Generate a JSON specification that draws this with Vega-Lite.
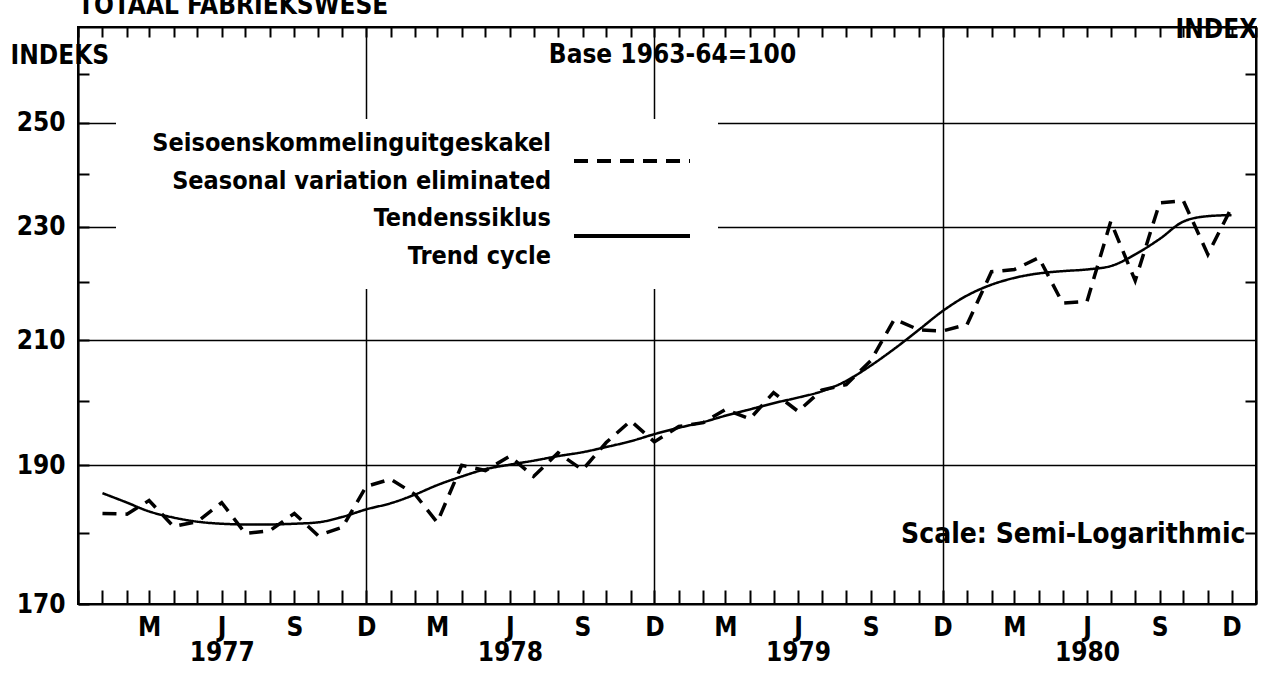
{
  "$schema": "https://vega.github.io/schema/vega-lite/v6.json",
  "width": 1178,
  "height": 577,
  "autosize": "none",
  "padding": {"left": 78, "top": 27, "right": 6, "bottom": 75},
  "background": "white",
  "title": {
    "text": "TOTAAL FABRIEKSWESE",
    "anchor": "start",
    "frame": "group",
    "font": "DejaVu Sans Condensed, Liberation Sans Narrow, DejaVu Sans, sans-serif",
    "fontSize": 26,
    "fontWeight": "bold",
    "color": "black",
    "baseline": "alphabetic",
    "offset": -24
  },
  "datasets": {
    "sa": [
      {"date": "1977-01-01", "series": "Seasonal variation eliminated", "value": 182.8},
      {"date": "1977-02-01", "series": "Seasonal variation eliminated", "value": 182.7},
      {"date": "1977-03-01", "series": "Seasonal variation eliminated", "value": 184.7},
      {"date": "1977-04-01", "series": "Seasonal variation eliminated", "value": 180.9},
      {"date": "1977-05-01", "series": "Seasonal variation eliminated", "value": 181.6},
      {"date": "1977-06-01", "series": "Seasonal variation eliminated", "value": 184.4},
      {"date": "1977-07-01", "series": "Seasonal variation eliminated", "value": 179.9},
      {"date": "1977-08-01", "series": "Seasonal variation eliminated", "value": 180.3},
      {"date": "1977-09-01", "series": "Seasonal variation eliminated", "value": 182.8},
      {"date": "1977-10-01", "series": "Seasonal variation eliminated", "value": 179.6},
      {"date": "1977-11-01", "series": "Seasonal variation eliminated", "value": 180.8},
      {"date": "1977-12-01", "series": "Seasonal variation eliminated", "value": 186.8},
      {"date": "1978-01-01", "series": "Seasonal variation eliminated", "value": 187.9},
      {"date": "1978-02-01", "series": "Seasonal variation eliminated", "value": 185.6},
      {"date": "1978-03-01", "series": "Seasonal variation eliminated", "value": 181.5},
      {"date": "1978-04-01", "series": "Seasonal variation eliminated", "value": 190.0},
      {"date": "1978-05-01", "series": "Seasonal variation eliminated", "value": 189.2},
      {"date": "1978-06-01", "series": "Seasonal variation eliminated", "value": 191.4},
      {"date": "1978-07-01", "series": "Seasonal variation eliminated", "value": 188.3},
      {"date": "1978-08-01", "series": "Seasonal variation eliminated", "value": 191.9},
      {"date": "1978-09-01", "series": "Seasonal variation eliminated", "value": 189.3},
      {"date": "1978-10-01", "series": "Seasonal variation eliminated", "value": 193.5},
      {"date": "1978-11-01", "series": "Seasonal variation eliminated", "value": 196.9},
      {"date": "1978-12-01", "series": "Seasonal variation eliminated", "value": 193.6},
      {"date": "1979-01-01", "series": "Seasonal variation eliminated", "value": 196.0},
      {"date": "1979-02-01", "series": "Seasonal variation eliminated", "value": 196.6},
      {"date": "1979-03-01", "series": "Seasonal variation eliminated", "value": 198.7},
      {"date": "1979-04-01", "series": "Seasonal variation eliminated", "value": 197.2},
      {"date": "1979-05-01", "series": "Seasonal variation eliminated", "value": 201.4},
      {"date": "1979-06-01", "series": "Seasonal variation eliminated", "value": 198.4},
      {"date": "1979-07-01", "series": "Seasonal variation eliminated", "value": 201.8},
      {"date": "1979-08-01", "series": "Seasonal variation eliminated", "value": 202.7},
      {"date": "1979-09-01", "series": "Seasonal variation eliminated", "value": 206.6},
      {"date": "1979-10-01", "series": "Seasonal variation eliminated", "value": 213.6},
      {"date": "1979-11-01", "series": "Seasonal variation eliminated", "value": 211.8},
      {"date": "1979-12-01", "series": "Seasonal variation eliminated", "value": 211.6},
      {"date": "1980-01-01", "series": "Seasonal variation eliminated", "value": 212.7},
      {"date": "1980-02-01", "series": "Seasonal variation eliminated", "value": 221.9},
      {"date": "1980-03-01", "series": "Seasonal variation eliminated", "value": 222.3},
      {"date": "1980-04-01", "series": "Seasonal variation eliminated", "value": 224.4},
      {"date": "1980-05-01", "series": "Seasonal variation eliminated", "value": 216.4},
      {"date": "1980-06-01", "series": "Seasonal variation eliminated", "value": 216.7},
      {"date": "1980-07-01", "series": "Seasonal variation eliminated", "value": 231.0},
      {"date": "1980-08-01", "series": "Seasonal variation eliminated", "value": 220.3},
      {"date": "1980-09-01", "series": "Seasonal variation eliminated", "value": 234.5},
      {"date": "1980-10-01", "series": "Seasonal variation eliminated", "value": 234.9},
      {"date": "1980-11-01", "series": "Seasonal variation eliminated", "value": 225.0},
      {"date": "1980-12-01", "series": "Seasonal variation eliminated", "value": 233.6}
    ],
    "tc": [
      {"date": "1977-01-01", "series": "Trend cycle", "value": 185.8},
      {"date": "1977-02-01", "series": "Trend cycle", "value": 184.4},
      {"date": "1977-03-01", "series": "Trend cycle", "value": 183.1},
      {"date": "1977-04-01", "series": "Trend cycle", "value": 182.2},
      {"date": "1977-05-01", "series": "Trend cycle", "value": 181.6},
      {"date": "1977-06-01", "series": "Trend cycle", "value": 181.3},
      {"date": "1977-07-01", "series": "Trend cycle", "value": 181.2},
      {"date": "1977-08-01", "series": "Trend cycle", "value": 181.2},
      {"date": "1977-09-01", "series": "Trend cycle", "value": 181.3},
      {"date": "1977-10-01", "series": "Trend cycle", "value": 181.5},
      {"date": "1977-11-01", "series": "Trend cycle", "value": 182.3},
      {"date": "1977-12-01", "series": "Trend cycle", "value": 183.4},
      {"date": "1978-01-01", "series": "Trend cycle", "value": 184.3},
      {"date": "1978-02-01", "series": "Trend cycle", "value": 185.6},
      {"date": "1978-03-01", "series": "Trend cycle", "value": 187.0},
      {"date": "1978-04-01", "series": "Trend cycle", "value": 188.3},
      {"date": "1978-05-01", "series": "Trend cycle", "value": 189.4},
      {"date": "1978-06-01", "series": "Trend cycle", "value": 190.1},
      {"date": "1978-07-01", "series": "Trend cycle", "value": 190.7},
      {"date": "1978-08-01", "series": "Trend cycle", "value": 191.4},
      {"date": "1978-09-01", "series": "Trend cycle", "value": 192.0},
      {"date": "1978-10-01", "series": "Trend cycle", "value": 192.8},
      {"date": "1978-11-01", "series": "Trend cycle", "value": 193.7},
      {"date": "1978-12-01", "series": "Trend cycle", "value": 194.8},
      {"date": "1979-01-01", "series": "Trend cycle", "value": 195.8},
      {"date": "1979-02-01", "series": "Trend cycle", "value": 196.7},
      {"date": "1979-03-01", "series": "Trend cycle", "value": 197.7},
      {"date": "1979-04-01", "series": "Trend cycle", "value": 198.7},
      {"date": "1979-05-01", "series": "Trend cycle", "value": 199.7},
      {"date": "1979-06-01", "series": "Trend cycle", "value": 200.6},
      {"date": "1979-07-01", "series": "Trend cycle", "value": 201.6},
      {"date": "1979-08-01", "series": "Trend cycle", "value": 203.3},
      {"date": "1979-09-01", "series": "Trend cycle", "value": 205.8},
      {"date": "1979-10-01", "series": "Trend cycle", "value": 208.6},
      {"date": "1979-11-01", "series": "Trend cycle", "value": 211.8},
      {"date": "1979-12-01", "series": "Trend cycle", "value": 215.0},
      {"date": "1980-01-01", "series": "Trend cycle", "value": 217.7},
      {"date": "1980-02-01", "series": "Trend cycle", "value": 219.6},
      {"date": "1980-03-01", "series": "Trend cycle", "value": 220.8},
      {"date": "1980-04-01", "series": "Trend cycle", "value": 221.6},
      {"date": "1980-05-01", "series": "Trend cycle", "value": 222.0},
      {"date": "1980-06-01", "series": "Trend cycle", "value": 222.3},
      {"date": "1980-07-01", "series": "Trend cycle", "value": 222.9},
      {"date": "1980-08-01", "series": "Trend cycle", "value": 225.0},
      {"date": "1980-09-01", "series": "Trend cycle", "value": 227.8},
      {"date": "1980-10-01", "series": "Trend cycle", "value": 231.0},
      {"date": "1980-11-01", "series": "Trend cycle", "value": 232.0},
      {"date": "1980-12-01", "series": "Trend cycle", "value": 232.2}
    ]
  },
  "config": {
    "view": {"stroke": "black", "strokeWidth": 2},
    "font": "DejaVu Sans Condensed, Liberation Sans Narrow, DejaVu Sans, sans-serif",
    "axis": {
      "domainColor": "black",
      "domainWidth": 2,
      "tickColor": "black",
      "tickWidth": 2,
      "gridColor": "black",
      "gridWidth": 1.5,
      "labelColor": "black",
      "labelFontWeight": "bold",
      "labelFontSize": 26,
      "titleColor": "black",
      "titleFontWeight": "bold",
      "titleFontSize": 26,
      "titleAngle": 0,
      "titleBaseline": "alphabetic"
    }
  },
  "layer": [
    {
      "data": {"name": "sa"},
      "mark": {"type": "line", "color": "black", "strokeWidth": 3.5},
      "encoding": {
        "x": {
          "field": "date",
          "type": "temporal",
          "scale": {
            "type": "utc",
            "domain": [
              {"year": 1976, "month": 12, "date": 1, "utc": true},
              {"year": 1981, "month": 1, "date": 1, "utc": true}
            ]
          },
          "axis": {
            "orient": "bottom",
            "tickCount": {"interval": "month", "step": 1},
            "tickSize": -14,
            "labelExpr": "utcyear(datum.value) < 1977 || utcyear(datum.value) > 1980 ? '' : utcmonth(datum.value) == 2 ? 'M' : utcmonth(datum.value) == 5 ? ['J', utcFormat(datum.value, '%Y')] : utcmonth(datum.value) == 8 ? 'S' : utcmonth(datum.value) == 11 ? 'D' : ''",
            "labelPadding": 24,
            "labelOverlap": false,
            "labelBound": false,
            "labelFlush": false,
            "labelLineHeight": 25,
            "labelBaseline": "top",
            "grid": true,
            "gridOpacity": {
              "condition": {"test": "utcmonth(datum.value) == 11 && utcyear(datum.value) < 1980", "value": 1},
              "value": 0
            },
            "title": "Scale: Semi-Logarithmic",
            "titleFontSize": 28,
            "titleX": 1167,
            "titleY": -62,
            "titleAlign": "right",
            "titleAnchor": "start"
          }
        },
        "y": {
          "field": "value",
          "type": "quantitative",
          "scale": {"type": "log", "domain": [170, 270], "nice": false},
          "axis": {
            "orient": "left",
            "values": [170, 180, 190, 200, 210, 220, 230, 240, 250, 260],
            "tickSize": -11,
            "labelExpr": "datum.value % 20 == 10 ? format(datum.value, 'd') : ''",
            "labelPadding": 24,
            "grid": true,
            "gridOpacity": {
              "condition": {"test": "datum.value % 20 == 10 && datum.value > 170", "value": 1},
              "value": 0
            },
            "title": "INDEKS",
            "titleX": -68,
            "titleY": 36,
            "titleAlign": "left",
            "titleAnchor": "start"
          }
        },
        "strokeDash": {
          "field": "series",
          "type": "nominal",
          "scale": {
            "domain": ["Seasonal variation eliminated", "Trend cycle"],
            "range": [[14, 9], [1, 0]]
          },
          "legend": {
            "orient": "none",
            "legendX": 38,
            "legendY": 92,
            "title": null,
            "symbolType": "M -2.9 0 L 2.9 0",
            "symbolSize": 1600,
            "symbolStrokeWidth": 4,
            "symbolStrokeColor": "black",
            "symbolFillColor": "transparent",
            "symbolOffset": 474,
            "labelAlign": "right",
            "labelOffset": -103,
            "labelBaseline": "alphabetic",
            "labelFontSize": 25,
            "labelFontWeight": "bold",
            "labelColor": "black",
            "labelLimit": 0,
            "labelExpr": "datum.value == 'Trend cycle' ? ['Tendenssiklus', 'Trend cycle'] : ['Seisoenskommelinguitgeskakel', 'Seasonal variation eliminated']",
            "fillColor": "white",
            "padding": 20,
            "rowPadding": 12,
            "encode": {"labels": {"update": {"lineHeight": {"value": 38}, "dy": {"value": -10}}}}
          }
        }
      }
    },
    {
      "data": {"name": "tc"},
      "mark": {"type": "line", "color": "black", "strokeWidth": 2.5, "interpolate": "monotone"},
      "encoding": {
        "x": {
          "field": "date",
          "type": "temporal",
          "axis": {
            "orient": "top",
            "tickCount": {"interval": "month", "step": 1},
            "tickSize": -10,
            "labels": false,
            "grid": false,
            "title": "Base 1963-64=100",
            "titleX": 594,
            "titleY": 35,
            "titleAlign": "center",
            "titleAnchor": "start"
          }
        },
        "y": {
          "field": "value",
          "type": "quantitative",
          "axis": {
            "orient": "right",
            "values": [180, 200, 220, 240, 260],
            "tickSize": -11,
            "labels": false,
            "grid": false,
            "title": "INDEX",
            "titleX": -81,
            "titleY": 10,
            "titleAlign": "left",
            "titleAnchor": "start"
          }
        },
        "strokeDash": {"field": "series", "type": "nominal"}
      }
    }
  ],
  "resolve": {"axis": {"x": "independent", "y": "independent"}}
}
